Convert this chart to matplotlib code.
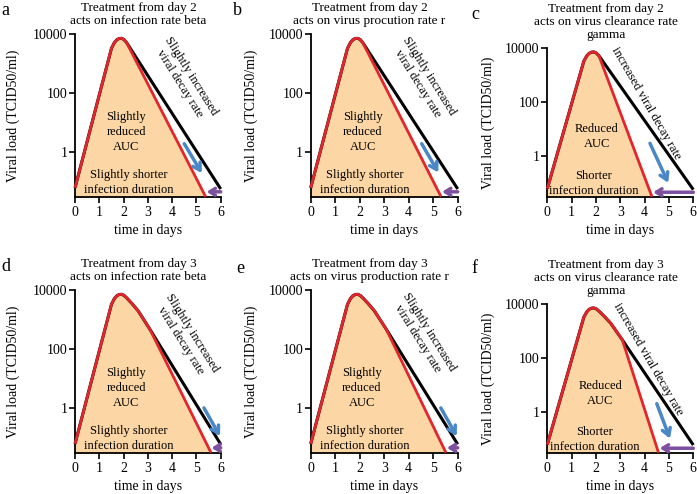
import matplotlib
matplotlib.use('Agg')
import matplotlib.pyplot as plt
import numpy as np

plt.rcParams['font.family'] = ['Liberation Serif', 'DejaVu Serif']

# ---- data ----
letters = ['a', 'b', 'c', 'd', 'e', 'f']
titles = ['Treatment from day 2\nacts on infection rate beta',
          'Treatment from day 2\nacts on virus procution rate r',
          'Treatment from day 2\nacts on virus clearance rate\ngamma',
          'Treatment from day 3\nacts on infection rate beta',
          'Treatment from day 3\nacts on virus production rate r',
          'Treatment from day 3\nacts on virus clearance rate\ngamma']

# untreated course (black)
days_top = [0, 1.5, 1.62, 1.72, 1.82, 1.92, 2.02, 2.12, 6.0]
load_top = [0.06, 3300, 5200, 6500, 7200, 7300, 6600, 5300, 0.055]
days_bot = [0, 1.5, 1.62, 1.72, 1.82, 1.92, 2.02, 2.15, 2.35, 2.6, 3.08, 6.0]
load_bot = [0.06, 3300, 5200, 6500, 7200, 7300, 6700, 5300, 3500, 2000, 480, 0.058]

# end of treated course (red) where it reaches the bottom of the axis
red_end = [5.38, 5.32, 4.3, 5.6, 5.52, 4.57]
y_floor = 0.03

decay_labels = ['Slightly increased\nviral decay rate'] * 2 + ['increased viral decay rate'] + \
               ['Slightly increased\nviral decay rate'] * 2 + ['increased viral decay rate']
auc_labels = ['Slightly\nreduced\nAUC'] * 2 + ['Reduced\nAUC'] + ['Slightly\nreduced\nAUC'] * 2 + ['Reduced\nAUC']
dur_labels = ['Slightly shorter\ninfection duration'] * 2 + ['Shorter\ninfection duration'] + \
             ['Slightly shorter\ninfection duration'] * 2 + ['Shorter\ninfection duration']

decay_xy = [(4.53, 280), (4.6, 280), (4.08, 87), (4.6, 263), (4.6, 295), (4.15, 93)]
auc_xy = [(2.1, 4.8), (2.12, 4.8), (2.03, 5.1), (2.1, 4.8), (2.08, 4.8), (2.17, 4.8)]
dur_xy = [(2.2, 0.089), (2.2, 0.089), (1.9, 0.093), (2.2, 0.091), (2.2, 0.091), (1.96, 0.093)]

blue_from = [(4.5, 1.9), (4.53, 1.9), (4.22, 2.9), (5.31, 1.0), (5.31, 1.0), (4.5, 2.0)]
blue_to = [(5.22, 0.19), (5.21, 0.2), (4.97, 0.098), (5.97, 0.11), (5.96, 0.11), (5.04, 0.1)]
purple_tip = [5.42, 5.36, 4.35, 5.62, 5.56, 4.62]
purple_y = 0.044

# axes boxes in pixels: left, right, top, bottom
boxes = [(75, 220.7, 34.3, 196.7), (310.7, 457.7, 34.3, 196.7), (547.3, 693.3, 48.3, 196.7),
         (75, 220.7, 290.3, 452.7), (310.7, 457.7, 290.3, 452.7), (547.3, 693.3, 304.3, 452.7)]
title_x = [0.437, 0.40, 0.40, 0.437, 0.40, 0.40]
ylabel_px = [20, 258, 495, 20, 258, 495]
letter_xy = [(1, 2), (233, 2), (471, 6), (1, 258), (236, 260), (471, 260)]

W, H = 697, 494
fig = plt.figure(figsize=(W / 100, H / 100), dpi=100)

FILL = '#fcd6a4'
RED = '#e2262b'
BLUE = '#4a87c7'
PURPLE = '#7d4f9f'

for i in range(6):
    l, r, t, b = boxes[i]
    ax = fig.add_axes([l / W, 1 - b / H, (r - l) / W, (b - t) / H])
    hpx = b - t

    if i < 3:
        bd, bl = days_top, load_top
    else:
        bd, bl = days_bot, load_bot
    n = len(bd) - 1
    rd = list(bd[:n]) + [red_end[i]]
    rl = list(bl[:n]) + [y_floor]

    ax.fill_between(rd, rl, y_floor, color=FILL, lw=0, zorder=1)
    ax.plot(bd, bl, color='black', lw=2.2, zorder=3, clip_on=False, solid_capstyle='butt')
    ax.plot(rd, rl, color=RED, lw=2.0, zorder=4, clip_on=False, solid_capstyle='butt',
            solid_joinstyle='round')

    ax.set_yscale('log')
    ax.set_xlim(0, 6)
    ax.set_ylim(y_floor, 1e4)
    ax.set_xticks(range(7))
    ax.set_yticks([1, 100, 10000])
    ax.set_yticklabels(['1', '100', '10000'])
    ax.minorticks_off()
    ax.tick_params(direction='out', length=4, width=1.2, labelsize=10, colors='black')
    ax.tick_params(axis='y', pad=1.5)
    ax.tick_params(axis='x', pad=3)
    for s in ['top', 'right']:
        ax.spines[s].set_visible(False)
    for s in ['left', 'bottom']:
        ax.spines[s].set_linewidth(1.3)

    ax.set_xlabel('time in days', fontsize=10)
    ax.xaxis.set_label_coords(0.5, -27 / hpx)
    ax.set_ylabel('Viral load (TCID50/ml)', fontsize=10)
    ax.yaxis.set_label_coords((ylabel_px[i] - l) / (r - l), 0.5)

    ax.text(title_x[i], 1 + 7 / hpx, titles[i], transform=ax.transAxes, ha='center', va='bottom',
            fontsize=9.5, linespacing=1.15)

    ang = -58 if i % 3 != 2 else -60
    ax.text(decay_xy[i][0], decay_xy[i][1], decay_labels[i], rotation=ang, rotation_mode='anchor',
            ha='center', va='center', fontsize=9, linespacing=1.15, zorder=5)
    ax.text(auc_xy[i][0], auc_xy[i][1], auc_labels[i], ha='center', va='center', fontsize=9,
            linespacing=1.3, zorder=5)
    ax.text(dur_xy[i][0], dur_xy[i][1], dur_labels[i], ha='center', va='center', fontsize=9,
            linespacing=1.3, zorder=5)

    ax.annotate('', xy=blue_to[i], xytext=blue_from[i],
                arrowprops=dict(arrowstyle='->,head_length=0.5,head_width=0.3', color=BLUE, lw=2.5,
                                shrinkA=0, shrinkB=0), zorder=6)
    ax.annotate('', xy=(purple_tip[i], purple_y), xytext=(6.0, purple_y),
                arrowprops=dict(arrowstyle='->,head_length=0.4,head_width=0.25', color=PURPLE, lw=2.5,
                                shrinkA=0, shrinkB=0), zorder=6, annotation_clip=False)

    fig.text(letter_xy[i][0] / W, 1 - letter_xy[i][1] / H, letters[i], fontsize=13, ha='left', va='top')

fig.savefig('out.png', dpi=100)
